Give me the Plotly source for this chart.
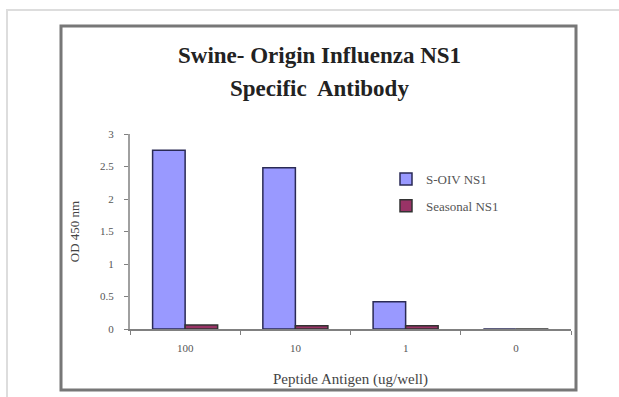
import plotly.graph_objects as go

# Data
categories = ["100", "10", "1", "0"]
soiv_ns1 = [2.75, 2.48, 0.42, 0.0]
seasonal_ns1 = [0.06, 0.05, 0.05, 0.0]
y_ticks = [0, 0.5, 1, 1.5, 2, 2.5, 3]
y_tick_labels = ["0", "0.5", "1", "1.5", "2", "2.5", "3"]

W, H = 619, 397
# plot area in pixels
L, R, T, B = 130, 571, 134, 329


def px(x):
    return (x - L) / (R - L)


def py(y):
    return (B - y) / (B - T)


font = "Liberation Serif, Times New Roman, serif"

fig = go.Figure()
fig.add_trace(go.Bar(
    name="S-OIV NS1", x=categories, y=soiv_ns1,
    marker=dict(color="#9999FF", line=dict(color="#2a2a55", width=1.5)),
    legendgroup="a",
))
fig.add_trace(go.Bar(
    name="Seasonal NS1", x=categories, y=seasonal_ns1,
    marker=dict(color="#993366", line=dict(color="#333333", width=1.5)),
    legendgroup="b",
))

fig.update_layout(
    width=W, height=H,
    margin=dict(l=L, r=W - R, t=T, b=H - B),
    paper_bgcolor="white", plot_bgcolor="white",
    barmode="group", bargap=0.41, bargroupgap=0,
    font=dict(family=font, color="#333333"),
    showlegend=True,
    legend=dict(
        x=px(386), y=py(164), xanchor="left", yanchor="top",
        font=dict(size=13, color="#555555"),
        traceorder="grouped", tracegroupgap=7,
        bgcolor="rgba(0,0,0,0)", itemwidth=30,
    ),
    xaxis=dict(
        type="category", showline=True, linecolor="#808080", linewidth=2,
        ticks="outside", tickson="boundaries", ticklen=4, tickcolor="#808080",
        tickfont=dict(size=11, color="#555555"), ticklabelstandoff=8,
        title=dict(text="Peptide Antigen (ug/well)", font=dict(size=15, color="#444444"), standoff=20),
        showgrid=False, zeroline=False,
    ),
    yaxis=dict(
        range=[0, 3], tickvals=y_ticks, ticktext=y_tick_labels,
        showline=True, linecolor="#a0a0a0", linewidth=2,
        ticks="outside", ticklen=4, tickcolor="#808080",
        tickfont=dict(size=11, color="#555555"), ticklabelstandoff=8,
        title=dict(text="OD 450 nm", font=dict(size=13, color="#444444"), standoff=17),
        showgrid=False, zeroline=False,
    ),
)

# Title lines
fig.add_annotation(text="<b>Swine- Origin Influenza NS1</b>", xref="paper", yref="paper",
                   x=px(319), y=py(55), xanchor="center", yanchor="middle", showarrow=False,
                   font=dict(size=23, color="#222222", family=font))
fig.add_annotation(text="<b>Specific  Antibody</b>", xref="paper", yref="paper",
                   x=px(319), y=py(88), xanchor="center", yanchor="middle", showarrow=False,
                   font=dict(size=23, color="#222222", family=font))

# Outer page border and chart frame
fig.add_shape(type="rect", xref="paper", yref="paper",
              x0=px(7), x1=px(630), y0=py(410), y1=py(10),
              line=dict(color="#dddddd", width=2), layer="below")
fig.add_shape(type="rect", xref="paper", yref="paper",
              x0=px(61), x1=px(576), y0=py(390), y1=py(26),
              line=dict(color="#777777", width=3), layer="below")

fig.write_html("out.html")
